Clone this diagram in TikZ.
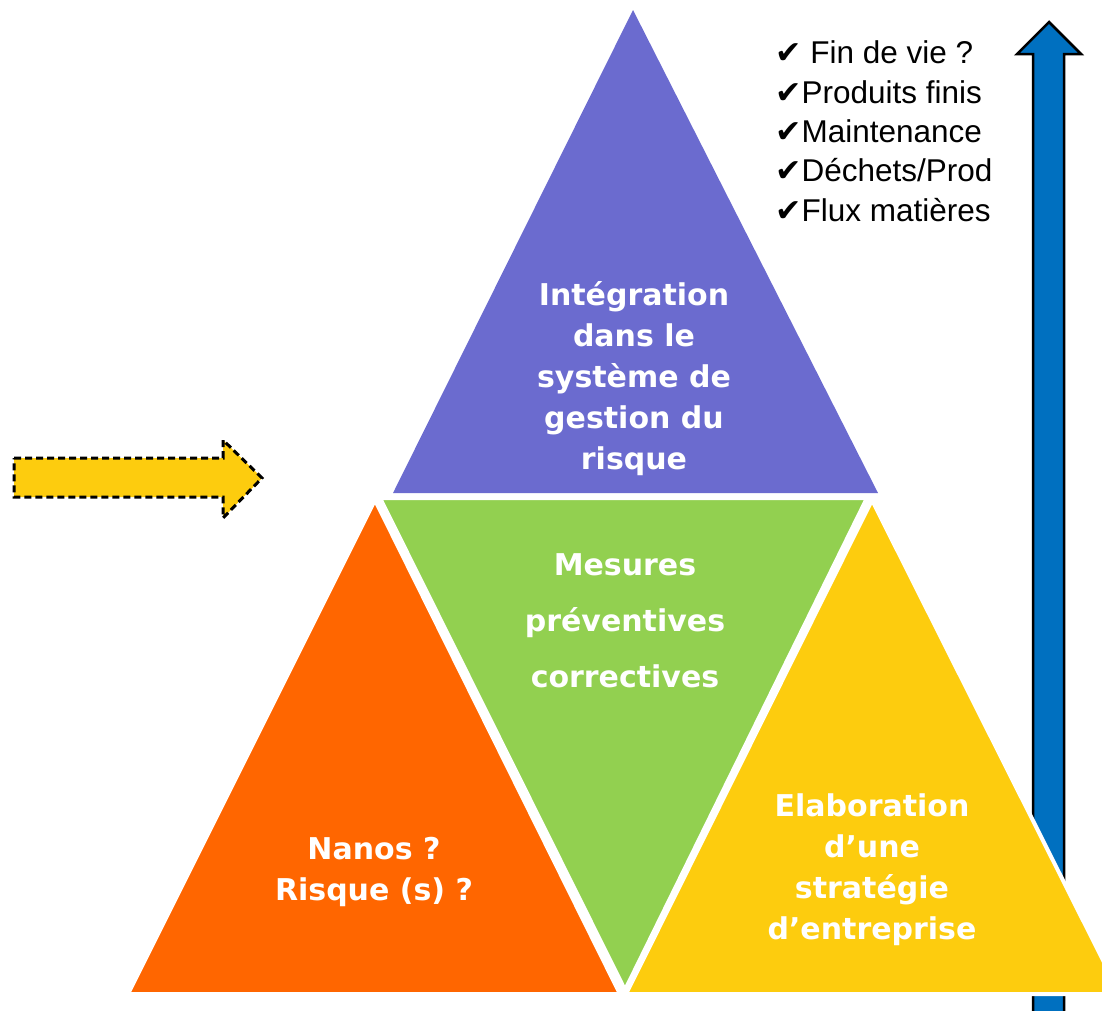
\documentclass[tikz,border=0pt]{standalone}
\usepackage{fontspec}
\setmainfont{DejaVu Sans}
\newfontfamily\arialf{Liberation Sans}
\newfontfamily\dvf{DejaVu Sans}
\definecolor{cpurple}{HTML}{6B6BCF}
\definecolor{cgreen}{HTML}{92D050}
\definecolor{corange}{HTML}{FF6600}
\definecolor{cyellow}{HTML}{FDCC0E}
\definecolor{cblue}{HTML}{0070C0}
\begin{document}
\begin{tikzpicture}[x=1pt,y=-1pt,
  tri/.style={draw=white,line width=4pt,line join=miter},
  wtxt/.style={text=white,font=\bfseries\fontsize{30}{41}\selectfont,align=center},
  chk/.style={anchor=west,font=\arialf\fontsize{31.5}{38}\selectfont,inner sep=0pt}]
\useasboundingbox (0,0) rectangle (1102,1010);
% blue arrow
\draw[fill=cblue,line width=2.5pt,line join=miter] (1033,1012) -- (1033,54) -- (1017,54) -- (1049,22) -- (1081,54) -- (1064,54) -- (1064,1012);
% triangles
\fill[cpurple] (633,10) -- (878,493) -- (393,493) -- cycle;
\draw[tri,fill=cgreen] (380,498) -- (867,498) -- (625,990) -- cycle;
\draw[tri,fill=corange] (375,500) -- (620,994) -- (128,994) -- cycle;
\draw[tri,fill=cyellow] (872,500) -- (1120,994) -- (626,994) -- cycle;
% yellow dashed arrow
\draw[fill=cyellow,line width=3pt,dash pattern=on 7pt off 4pt] (14,458) -- (223,458) -- (223,440) -- (262,478) -- (223,518) -- (223,497) -- (14,497) -- cycle;
% texts
\node[wtxt] (t1) at (634,379) {Intégration\\dans le\\système de\\gestion du\\risque};
\node[wtxt,font=\bfseries\fontsize{30}{56}\selectfont] (t2) at (625,621) {Mesures\\préventives\\correctives};
\node[wtxt] (t3) at (374,872) {Nanos ?\\Risque (s) ?};
\node[wtxt] (t4) at (872,870) {Elaboration\\d’une\\stratégie\\d’entreprise};
\node[chk] (c1) at (775,52) {{\dvf ✔} Fin de vie ?};
\node[chk] (c2) at (775,92) {{\dvf ✔}Produits finis};
\node[chk] (c3) at (775,131) {{\dvf ✔}Maintenance};
\node[chk] (c4) at (775,170) {{\dvf ✔}Déchets/Prod};
\node[chk] (c5) at (775,210) {{\dvf ✔}Flux matières};
\end{tikzpicture}
\end{document}
